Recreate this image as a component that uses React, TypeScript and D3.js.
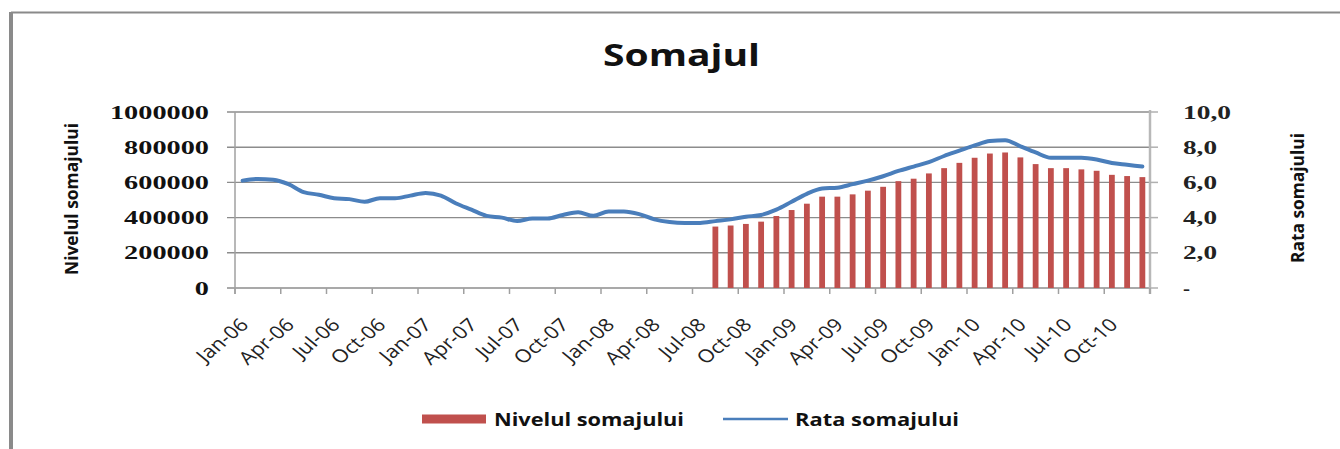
import React, { useEffect, useRef } from "react";
import * as d3 from "d3";

// categories: Jan-06 .. Dec-10
const monthNames = ["Jan", "Feb", "Mar", "Apr", "May", "Jun", "Jul", "Aug", "Sep", "Oct", "Nov", "Dec"];
const years = ["06", "07", "08", "09", "10"];
const months = years.flatMap(y => monthNames.map(m => `${m}-${y}`));

// Rata somajului (%), one value per month
const rate = [
  6.1, 6.2, 6.15, 5.9, 5.45, 5.3, 5.1, 5.05, 4.9, 5.1, 5.1, 5.25,
  5.4, 5.25, 4.8, 4.45, 4.1, 4.0, 3.8, 3.95, 3.95, 4.15, 4.3, 4.1,
  4.35, 4.35, 4.2, 3.9, 3.75, 3.7, 3.7, 3.8, 3.9, 4.05, 4.15, 4.45,
  4.9, 5.35, 5.65, 5.7, 5.9, 6.1, 6.35, 6.65, 6.9, 7.15, 7.5, 7.8,
  8.1, 8.35, 8.4, 8.05, 7.7, 7.4, 7.4, 7.4, 7.3, 7.1, 7.0, 6.9
];

// Nivelul somajului, from Aug-08 on
const levelStart = "Aug-08";
const level = [
  349000, 355000, 364000, 377000, 409000, 443000, 479000, 519000, 519000, 532000,
  553000, 575000, 607000, 621000, 651000, 681000, 711000, 740000, 764000, 770000,
  742000, 704000, 681000, 681000, 674000, 666000, 643000, 636000, 630000
];

const leftTicks = [0, 200000, 400000, 600000, 800000, 1000000];
const rightTicks = [0, 2, 4, 6, 8, 10];

const W = 1340;
const H = 449;
const left = 235;
const right = 1150;
const top = 112;
const bottom = 288;

const App = () => {
  const ref = useRef(null);

  useEffect(() => {
    const svg = d3.select(ref.current);
    svg.selectAll("*").remove();

    const x = d3.scaleBand().domain(months).range([left, right]).padding(0);
    const yL = d3.scaleLinear().domain([0, 1000000]).range([bottom, top]);
    const yR = d3.scaleLinear().domain([0, 10]).range([bottom, top]);
    const bw = x.bandwidth();

    // frame (only top and left visible)
    svg.append("line").attr("x1", 11).attr("x2", W).attr("y1", 12.5).attr("y2", 12.5)
      .attr("stroke", "#8a8a8a").attr("stroke-width", 2);
    svg.append("line").attr("x1", 11).attr("x2", 11).attr("y1", 12).attr("y2", H)
      .attr("stroke", "#8a8a8a").attr("stroke-width", 4);

    // title
    svg.append("text").attr("x", 681.5).attr("y", 66).attr("text-anchor", "middle")
      .attr("font-family", "'Open Sans', sans-serif").attr("font-weight", "bold")
      .attr("font-size", 30).attr("textLength", 157).attr("lengthAdjust", "spacingAndGlyphs")
      .attr("fill", "#111").text("Somajul");

    // gridlines + left ticks
    const grid = svg.append("g");
    leftTicks.forEach(t => {
      grid.append("line").attr("x1", left - 8).attr("x2", right).attr("y1", yL(t)).attr("y2", yL(t))
        .attr("stroke", "#8c8c8c").attr("stroke-width", 1.4);
    });

    // axes
    svg.append("line").attr("x1", left).attr("x2", left).attr("y1", top).attr("y2", bottom + 6)
      .attr("stroke", "#a0a0a0").attr("stroke-width", 1.5);
    svg.append("line").attr("x1", right).attr("x2", right).attr("y1", top - 2).attr("y2", bottom + 6)
      .attr("stroke", "#b8b8b8").attr("stroke-width", 2.5);
    rightTicks.forEach(t => {
      svg.append("line").attr("x1", right).attr("x2", right + 8).attr("y1", yR(t)).attr("y2", yR(t))
        .attr("stroke", "#b0b0b0").attr("stroke-width", 1.5);
    });
    d3.range(0, months.length + 1, 3).forEach(i => {
      const tx = left + i * bw;
      svg.append("line").attr("x1", tx).attr("x2", tx).attr("y1", bottom).attr("y2", bottom + 6)
        .attr("stroke", "#a0a0a0").attr("stroke-width", 1.5);
    });

    // left tick labels
    const serif = "'Liberation Serif', 'Times New Roman', serif";
    svg.append("g").selectAll("text").data(leftTicks).join("text")
      .attr("x", 209).attr("y", d => yL(d)).attr("dy", "0.35em").attr("text-anchor", "end")
      .attr("font-family", serif).attr("font-weight", "bold").attr("font-size", 19)
      .attr("textLength", d => String(d).length * 14.15).attr("lengthAdjust", "spacingAndGlyphs")
      .attr("fill", "#111").text(d => String(d));

    // right tick labels
    const fmtR = d => (d === 0 ? "-" : d3.format(".1f")(d).replace(".", ","));
    svg.append("g").selectAll("text").data(rightTicks).join("text")
      .attr("x", 1183).attr("y", d => yR(d)).attr("dy", "0.35em").attr("text-anchor", "start")
      .attr("font-family", serif).attr("font-weight", "bold").attr("font-size", 19)
      .attr("textLength", d => (d === 0 ? 7 : fmtR(d).length * 14 - 8)).attr("lengthAdjust", "spacingAndGlyphs")
      .attr("fill", "#222").text(fmtR);

    // axis titles
    const sans = "'Open Sans', sans-serif";
    svg.append("text").attr("transform", "translate(78,199) rotate(-90)")
      .attr("text-anchor", "middle").attr("font-family", sans).attr("font-weight", "bold")
      .attr("font-size", 17).attr("textLength", 152).attr("lengthAdjust", "spacingAndGlyphs")
      .attr("fill", "#111").text("Nivelul somajului");
    svg.append("text").attr("transform", "translate(1304,198) rotate(-90)")
      .attr("text-anchor", "middle").attr("font-family", sans).attr("font-weight", "bold")
      .attr("font-size", 17).attr("textLength", 130).attr("lengthAdjust", "spacingAndGlyphs")
      .attr("fill", "#111").text("Rata somajului");

    // x labels every 3 months (slightly widened like the source image)
    svg.append("g").selectAll("text").data(months.filter((m, i) => i % 3 === 0)).join("text")
      .attr("transform", d => `translate(${x(d) + bw / 2 + 7},${bottom + 38}) scale(1.2,1) rotate(-45)`)
      .attr("text-anchor", "end").attr("font-family", sans).attr("font-size", 18)
      .attr("fill", "#222").text(d => d);

    // bars
    const startIdx = months.indexOf(levelStart);
    const barData = level.map((v, i) => ({ m: months[startIdx + i], v }));
    svg.append("g").selectAll("rect").data(barData).join("rect")
      .attr("x", d => x(d.m) + bw * 0.31).attr("width", bw * 0.38)
      .attr("y", d => yL(d.v)).attr("height", d => bottom - yL(d.v))
      .attr("fill", "#c0504d");

    // line
    const line = d3.line()
      .x((d, i) => x(months[i]) + bw / 2)
      .y(d => yR(d))
      .curve(d3.curveMonotoneX);
    svg.append("path").datum(rate).attr("d", line)
      .attr("fill", "none").attr("stroke", "#4a7ebb").attr("stroke-width", 4)
      .attr("stroke-linejoin", "round").attr("stroke-linecap", "round");

    // legend
    const lg = svg.append("g");
    lg.append("rect").attr("x", 422).attr("y", 414.5).attr("width", 64).attr("height", 9).attr("fill", "#c0504d");
    lg.append("text").attr("x", 494).attr("y", 426).attr("font-family", sans).attr("font-weight", "bold")
      .attr("font-size", 18).attr("textLength", 190).attr("lengthAdjust", "spacingAndGlyphs")
      .attr("fill", "#111").text("Nivelul somajului");
    lg.append("line").attr("x1", 723).attr("x2", 788).attr("y1", 419).attr("y2", 419)
      .attr("stroke", "#4a7ebb").attr("stroke-width", 2.5);
    lg.append("text").attr("x", 795).attr("y", 426).attr("font-family", sans).attr("font-weight", "bold")
      .attr("font-size", 18).attr("textLength", 164).attr("lengthAdjust", "spacingAndGlyphs")
      .attr("fill", "#111").text("Rata somajului");
  }, []);

  return (
    <svg
      ref={ref}
      width={W}
      height={H}
      style={{ position: "absolute", left: 0, top: 0, background: "#fff" }}
    />
  );
};

export default App;
